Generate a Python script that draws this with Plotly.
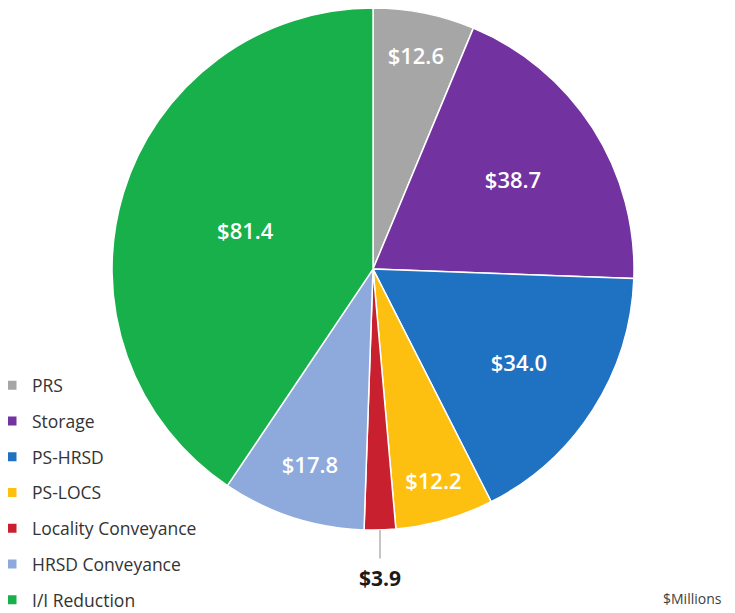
import plotly.graph_objects as go

labels = ["PRS", "Storage", "PS-HRSD", "PS-LOCS", "Locality Conveyance", "HRSD Conveyance", "I/I Reduction"]
values = [12.6, 38.7, 34.0, 12.2, 3.9, 17.8, 81.4]
colors = ["#A6A6A6", "#7232A0", "#1F72C2", "#FDBF10", "#C8202F", "#8EA9DB", "#17B04B"]

FONT = "Open Sans"

texts = [f"${v:.1f}" if l != "Locality Conveyance" else "" for l, v in zip(labels, values)]

fig = go.Figure()
fig.add_trace(go.Pie(
    labels=labels,
    values=values,
    text=texts,
    textinfo="text",
    sort=False,
    direction="clockwise",
    rotation=0,
    marker=dict(colors=colors, line=dict(color="white", width=1.5)),
    textposition="inside",
    insidetextorientation="horizontal",
    insidetextfont=dict(family=FONT, size=22, color="white", weight=600),
    domain=dict(x=[0.1431, 0.8611], y=[0.137, 1.0]),
    showlegend=False,
    hoverinfo="label+value",
))

# legend built from dummy traces so spacing between entries can match
for i, (l, c) in enumerate(zip(labels, colors)):
    fig.add_trace(go.Scatter(
        x=[None], y=[None], mode="markers", name=l,
        marker=dict(symbol="square", size=9, color=c),
        legendgroup=f"g{i}", showlegend=True,
    ))

small = labels.index("Locality Conveyance")
fig.add_annotation(
    x=0.5117, y=0.137, xref="paper", yref="paper",
    ax=0, ay=30,
    text="", showarrow=True, arrowhead=0, arrowwidth=1, arrowcolor="#8c8c8c",
)
fig.add_annotation(
    x=0.5117, y=0.085, xref="paper", yref="paper", yanchor="top",
    text=f"${values[small]:.1f}", showarrow=False,
    font=dict(family=FONT, size=21, color="#1a1a1a", weight=700),
)
fig.add_annotation(
    x=0.985, y=0.005, xref="paper", yref="paper", xanchor="right", yanchor="bottom",
    text="$Millions", showarrow=False,
    font=dict(family=FONT, size=14, color="#404040"),
)

fig.update_layout(
    width=727, height=605,
    margin=dict(l=0, r=0, t=0, b=0, autoexpand=False),
    paper_bgcolor="white", plot_bgcolor="white",
    xaxis=dict(visible=False), yaxis=dict(visible=False),
    legend=dict(
        x=-0.022, y=-0.009, xanchor="left", yanchor="bottom",
        bgcolor="rgba(0,0,0,0)",
        font=dict(family=FONT, size=17.5, color="#333333"),
        tracegroupgap=10, itemwidth=30,
    ),
)

fig.write_html("out.html")
